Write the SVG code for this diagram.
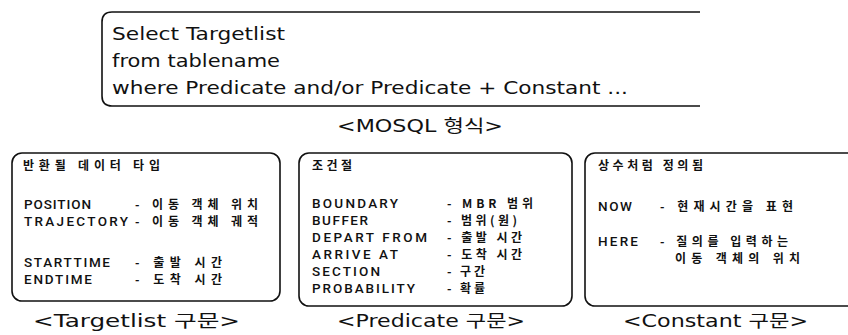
<svg xmlns="http://www.w3.org/2000/svg" width="848" height="335" viewBox="0 0 848 335">
<style>
.box{fill:none;stroke:#111;stroke-width:1.6}
.q{font-family:"DejaVu Sans","Noto Sans CJK KR",sans-serif;font-size:17px;fill:#111}
.cap{font-family:"DejaVu Sans","Noto Sans CJK KR",sans-serif;font-size:17px;fill:#111}
.en{font-family:Roboto,"Liberation Sans",sans-serif;font-size:13.5px;font-weight:500;fill:#111}
.ko{font-family:"Noto Sans CJK KR",sans-serif;font-size:12px;font-weight:bold;fill:#111}
</style>
<rect width="848" height="335" fill="#fff"/>
<g id="mosql">
<path class="box" d="M700,12 H112 Q102,12 102,22 V96 Q102,106 112,106 H700"/>
<text class="q" x="112" y="40" textLength="173" lengthAdjust="spacingAndGlyphs">Select Targetlist</text>
<text class="q" x="112" y="67" textLength="168" lengthAdjust="spacingAndGlyphs">from tablename</text>
<text class="q" x="112" y="94" textLength="516" lengthAdjust="spacingAndGlyphs">where Predicate and/or Predicate + Constant ...</text>
<text class="cap" x="337" y="132" font-size="16" textLength="166" lengthAdjust="spacingAndGlyphs">&lt;MOSQL 형식&gt;</text>
</g>
<g id="targetlist">
<rect class="box" x="12" y="153" width="268" height="148" rx="10"/>
<text class="ko" x="23" y="170" textLength="137" lengthAdjust="spacing">반환될 데이터 타입</text>
<text class="en" x="24" y="209" textLength="67" lengthAdjust="spacing">POSITION</text>
<text class="ko" x="135" y="209" textLength="123" lengthAdjust="spacing">- 이동 객체 위치</text>
<text class="en" x="24" y="226" textLength="104" lengthAdjust="spacing">TRAJECTORY</text>
<text class="ko" x="135" y="226" textLength="123" lengthAdjust="spacing">- 이동 객체 궤적</text>
<text class="en" x="24" y="267" textLength="86" lengthAdjust="spacing">STARTTIME</text>
<text class="ko" x="135" y="267" textLength="87" lengthAdjust="spacing">- 출발 시간</text>
<text class="en" x="24" y="284" textLength="68" lengthAdjust="spacing">ENDTIME</text>
<text class="ko" x="135" y="284" textLength="87" lengthAdjust="spacing">- 도착 시간</text>
<text class="cap" x="33" y="327" textLength="207" lengthAdjust="spacingAndGlyphs">&lt;Targetlist 구문&gt;</text>
</g>
<g id="predicate">
<rect class="box" x="299" y="153" width="273" height="153" rx="10"/>
<text class="ko" x="312" y="170" textLength="40" lengthAdjust="spacing">조건절</text>
<text class="en" x="312" y="208" textLength="86" lengthAdjust="spacing">BOUNDARY</text>
<text class="ko" x="447" y="208" textLength="86" lengthAdjust="spacing">- MBR 범위</text>
<text class="en" x="312" y="225" textLength="56" lengthAdjust="spacing">BUFFER</text>
<text class="ko" x="447" y="225" textLength="70" lengthAdjust="spacing">- 범위(원)</text>
<text class="en" x="312" y="242" textLength="115" lengthAdjust="spacing">DEPART FROM</text>
<text class="ko" x="447" y="242" textLength="75" lengthAdjust="spacing">- 출발 시간</text>
<text class="en" x="312" y="259" textLength="86" lengthAdjust="spacing">ARRIVE AT</text>
<text class="ko" x="447" y="259" textLength="75" lengthAdjust="spacing">- 도착 시간</text>
<text class="en" x="312" y="276" textLength="68" lengthAdjust="spacing">SECTION</text>
<text class="ko" x="447" y="276" textLength="38" lengthAdjust="spacing">- 구간</text>
<text class="en" x="312" y="293" textLength="103" lengthAdjust="spacing">PROBABILITY</text>
<text class="ko" x="447" y="293" textLength="38" lengthAdjust="spacing">- 확률</text>
<text class="cap" x="337" y="327" textLength="188" lengthAdjust="spacingAndGlyphs">&lt;Predicate 구문&gt;</text>
</g>
<g id="constant">
<rect class="box" x="585" y="153" width="275" height="153" rx="10"/>
<text class="ko" x="598" y="170" textLength="105" lengthAdjust="spacing">상수처럼 정의됨</text>
<text class="en" x="598" y="211" textLength="34" lengthAdjust="spacing">NOW</text>
<text class="ko" x="660" y="211" textLength="133" lengthAdjust="spacing">- 현재시간을 표현</text>
<text class="en" x="598" y="246" textLength="40" lengthAdjust="spacing">HERE</text>
<text class="ko" x="660" y="246" textLength="128" lengthAdjust="spacing">- 질의를 입력하는</text>
<text class="ko" x="675" y="263" textLength="125" lengthAdjust="spacing">이동 객체의 위치</text>
<text class="cap" x="623" y="327" textLength="185" lengthAdjust="spacingAndGlyphs">&lt;Constant 구문&gt;</text>
</g>
<g id="connectors"/>
</svg>
